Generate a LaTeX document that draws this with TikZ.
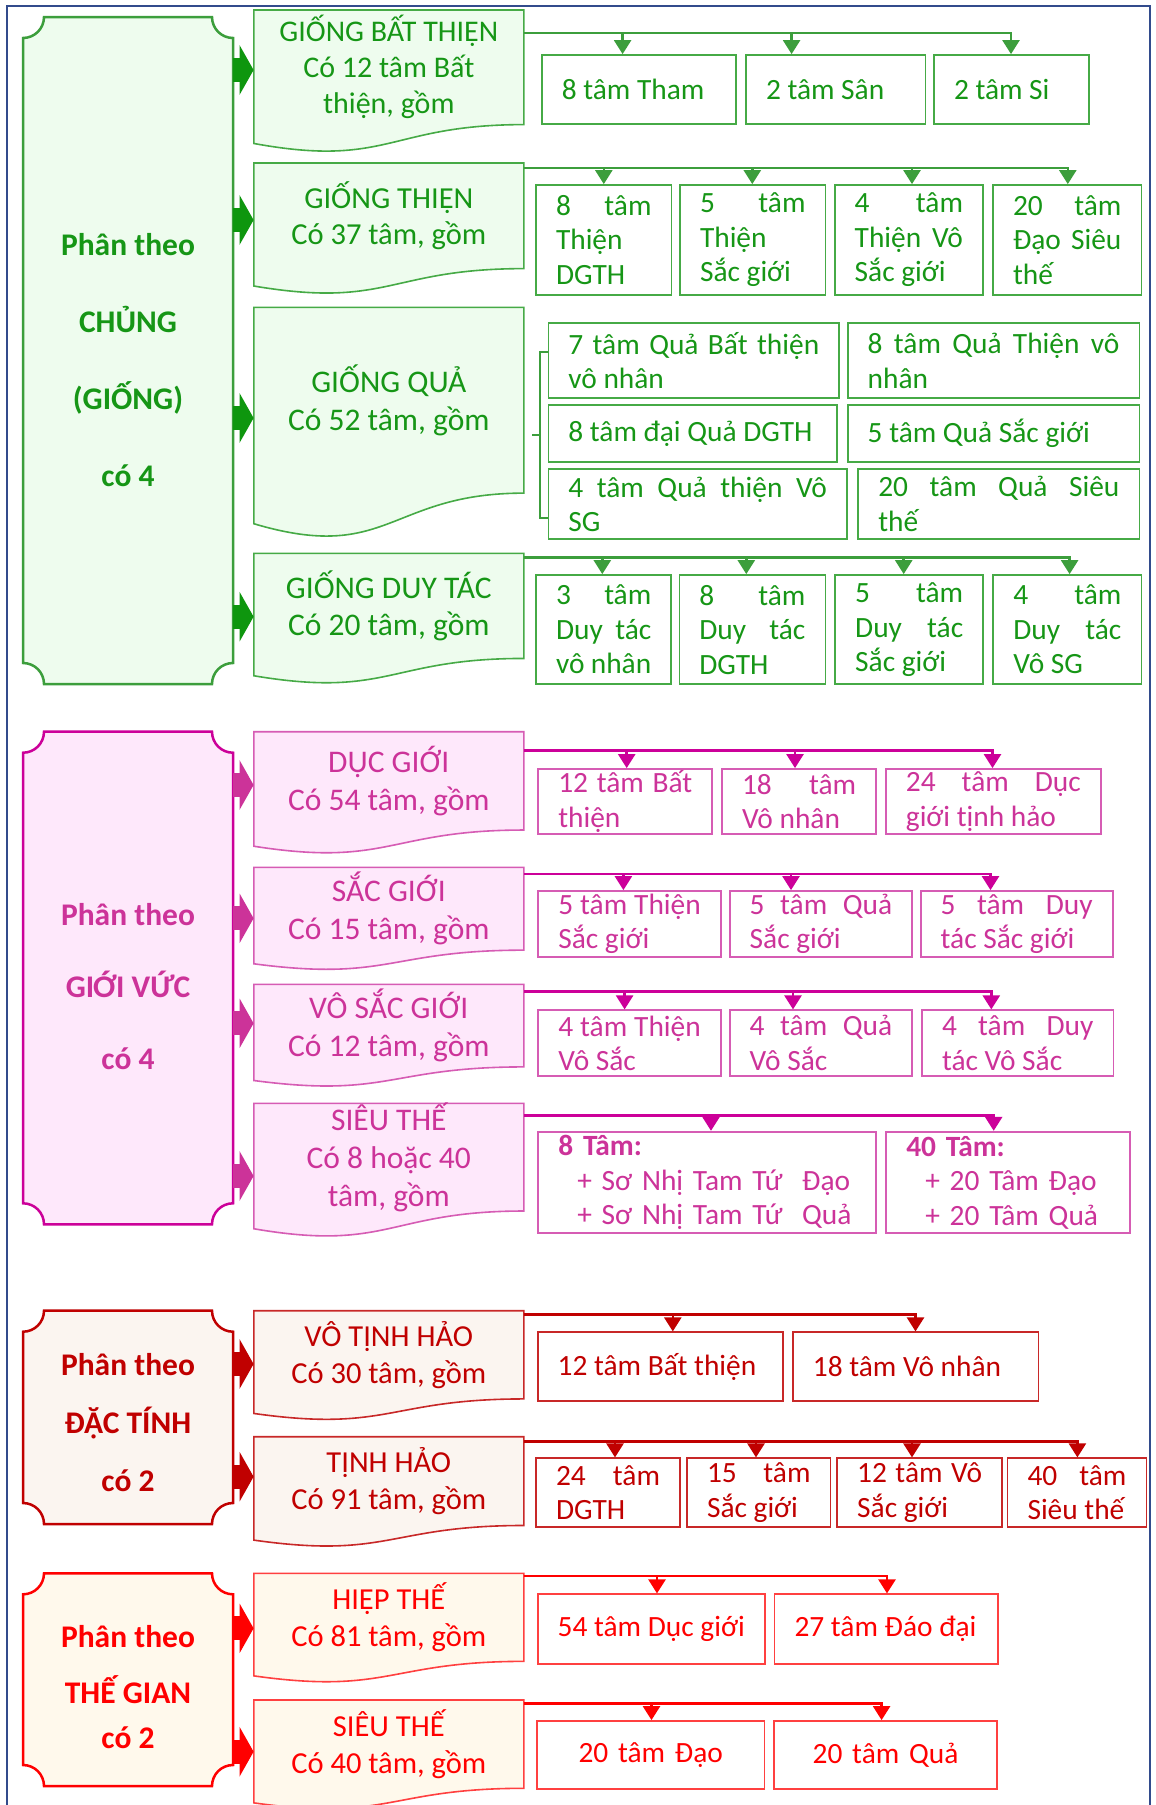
\documentclass[tikz,border=0pt]{standalone}
\usepackage{fontspec}
\setmainfont{Carlito}
\usetikzlibrary{arrows.meta}

\definecolor{gline}{RGB}{60,158,60}
\definecolor{gtext}{RGB}{22,150,22}
\definecolor{gbord}{RGB}{70,170,70}
\definecolor{gfill}{RGB}{238,252,238}
\definecolor{garrow}{RGB}{14,150,14}
\definecolor{mline}{RGB}{204,0,153}
\definecolor{mtext}{RGB}{204,51,153}
\definecolor{mbord}{RGB}{214,92,180}
\definecolor{mfill}{RGB}{254,232,251}
\definecolor{marrow}{RGB}{204,51,153}
\definecolor{rline}{RGB}{192,0,0}
\definecolor{rtext}{RGB}{192,0,0}
\definecolor{rbord}{RGB}{200,40,40}
\definecolor{rfill}{RGB}{251,245,240}
\definecolor{rarrow}{RGB}{192,0,0}
\definecolor{fline}{RGB}{255,0,0}
\definecolor{ftext}{RGB}{255,0,0}
\definecolor{fbord}{RGB}{255,64,64}
\definecolor{ffill}{RGB}{255,249,236}
\definecolor{farrow}{RGB}{255,0,0}
\definecolor{edgeblue}{RGB}{50,75,140}

\hyphenpenalty=10000
\exhyphenpenalty=10000

\tikzset{
  pan/.style={draw=#1line, fill=#1fill, line width=2.5pt},
  pantext/.style={text=#1text, align=center, inner sep=0pt, minimum width=210pt},
  docshape/.style={draw=#1bord, fill=#1fill, line width=1.6pt},
  doctext/.style={text=#1text, align=center, inner sep=0pt, minimum width=270pt},
  cell/.style={draw=#1bord, fill=white, text=#1text, line width=1.8pt, align=justify,
    inner xsep=20pt, inner ysep=0pt, font=\fontsize{29.4}{34.5}\selectfont},
  conn/.style={draw=#1line, line width=2.5pt, -{Triangle[length=14pt,width=17pt]}},
  fat/.style={draw=#1arrow, line width=24pt, -{Triangle[length=14pt,width=49pt]}},
  brk/.style={draw=#1line, line width=2pt}
}

% panel with hollow corners: [opts]{name}{colour}{top}{bottom}{text}
\newcommand\panel[6][]{%
  \pgfmathsetmacro\pnA{#4+21}\pgfmathsetmacro\pnB{#4+11.6}%
  \pgfmathsetmacro\pnC{#5-21}\pgfmathsetmacro\pnD{#5-11.6}%
  \draw[pan=#3] (44,#4) -- (212,#4) .. controls (212,\pnB) and (221.4,\pnA) .. (233,\pnA)
    -- (233,\pnC) .. controls (221.4,\pnC) and (212,\pnD) .. (212,#5)
    -- (44,#5) .. controls (44,\pnD) and (34.6,\pnC) .. (23,\pnC)
    -- (23,\pnA) .. controls (34.6,\pnA) and (44,\pnB) .. (44,#4) -- cycle;
  \node[pantext=#3,#1] (#2) at (128,{(#4+#5)/2}) {#6};
}
% document shape: [font size]{name}{colour}{top}{height}{text}
\newcommand\docbox[6][30.5]{%
  \pgfmathsetmacro\dcA{#4+0.802*#5}\pgfmathsetmacro\dcB{#4+1.1075*#5}%
  \pgfmathsetmacro\dcC{#4+0.934*#5}\pgfmathsetmacro\dcM{#4+0.401*#5}%
  \pgfmathsetmacro\dcH{0.802*#5}\pgfmathsetmacro\dcL{1.2*#1}%
  \draw[docshape=#3] (253.8,#4) -- (523.8,#4) -- (523.8,\dcA)
    .. controls (388.8,\dcA) and (388.8,\dcB) .. (253.8,\dcC) -- cycle;
  \node[doctext=#3, minimum height=\dcH pt, font=\fontsize{#1}{\dcL}\selectfont]
    (#2) at (388.8,\dcM) {#6};
}
% box: [opts]{name}{colour}{x1}{y1}{x2}{y2}{text}
\newcommand\cell[8][]{%
  \pgfmathsetmacro\clW{#6-#4}\pgfmathsetmacro\clH{#7-#5}\pgfmathsetmacro\clT{#6-#4-40}%
  \node[cell=#3, minimum width=\clW pt, minimum height=\clH pt, text width=\clT pt, #1]
    (#2) at ({(#4+#6)/2},{(#5+#7)/2}) {#8};
}

\begin{document}
\begin{tikzpicture}[x=1pt,y=-1pt]
\useasboundingbox (0,0) rectangle (1156,1805);
\fill[white] (0,0) rectangle (1156,1805);
\draw[edgeblue, line width=2pt] (6.7,1815) -- (6.7,6) -- (1150,6) -- (1150,1815);

% left panels
\panel[font=\fontsize{31.5}{77}\selectfont\bfseries, yshift=-9.5pt]{pg}{g}{17}{684}{Phân theo\\CHỦNG\\(GIỐNG)\\có 4}
\panel[font=\fontsize{31.5}{72}\selectfont\bfseries, yshift=-9pt]{pm}{m}{731.7}{1224.3}{Phân theo\\GIỚI VỨC\\có 4}
\panel[font=\fontsize{31.5}{58}\selectfont\bfseries, yshift=-5pt]{pr}{r}{1310.7}{1524}{Phân theo\\ĐẶC TÍNH\\có 2}
\panel[font=\fontsize{31.5}{56}\selectfont\bfseries, yshift=-7.6pt]{pf}{f}{1573.3}{1786}{Phân theo\\THẾ GIAN\\[-11pt]có 2}

% documents
\docbox[30]{d1}{g}{10}{142.9}{GIỐNG BẤT THIỆN\\Có 12 tâm Bất\\thiện, gồm}
\docbox{d2}{g}{163}{131.7}{GIỐNG THIỆN\\Có 37 tâm, gồm}
\docbox[31.5]{d3}{g}{307.3}{231.7}{GIỐNG QUẢ\\Có 52 tâm, gồm}
\docbox[31.5]{d4}{g}{553.3}{131.1}{GIỐNG DUY TÁC\\Có 20 tâm, gồm}
\docbox[31.5]{d5}{m}{731.7}{122.6}{DỤC GIỚI\\Có 54 tâm, gồm}
\docbox[31.5]{d6}{m}{867.3}{103.3}{SẮC GIỚI\\Có 15 tâm, gồm}
\docbox[31.5]{d7}{m}{984.3}{103}{VÔ SẮC GIỚI\\Có 12 tâm, gồm}
\docbox[31.5]{d8}{m}{1103.3}{134.3}{SIÊU THẾ\\Có 8 hoặc 40\\tâm, gồm}
\docbox{d9}{r}{1310.7}{110}{VÔ TỊNH HẢO\\Có 30 tâm, gồm}
\docbox{d10}{r}{1436.7}{110.7}{TỊNH HẢO\\Có 91 tâm, gồm}
\docbox{d11}{f}{1573.3}{109.8}{HIỆP THẾ\\Có 81 tâm, gồm}
\docbox{d12}{f}{1700}{110.1}{SIÊU THẾ\\Có 40 tâm, gồm}

% big arrows
\draw[fat=g] (pg.east |- 0,70) -- (d1.west |- 0,70);
\draw[fat=g] (pg.east |- 0,220) -- (d2.west |- 0,220);
\draw[fat=g] (pg.east |- 0,418) -- (d3.west |- 0,418);
\draw[fat=g] (pg.east |- 0,616.7) -- (d4.west |- 0,616.7);
\draw[fat=m] (pm.east |- 0,785) -- (d5.west |- 0,785);
\draw[fat=m] (pm.east |- 0,918.3) -- (d6.west |- 0,918.3);
\draw[fat=m] (pm.east |- 0,1023.3) -- (d7.west |- 0,1023.3);
\draw[fat=m] (pm.east |- 0,1176) -- (d8.west |- 0,1176);
\draw[fat=r] (pr.east |- 0,1364) -- (d9.west |- 0,1364);
\draw[fat=r] (pr.east |- 0,1476.7) -- (d10.west |- 0,1476.7);
\draw[fat=f] (pf.east |- 0,1628.3) -- (d11.west |- 0,1628.3);
\draw[fat=f] (pf.east |- 0,1751.7) -- (d12.west |- 0,1751.7);

% boxes
\cell{g11}{g}{541.8}{55}{735.6}{124}{8~tâm~Tham}
\cell{g12}{g}{746}{55}{925.5}{124}{2~tâm~Sân}
\cell{g13}{g}{934}{55}{1088.7}{124}{2~tâm~Si}
\cell{g21}{g}{536}{185}{671.5}{295}{8~tâm\linebreak Thiện\linebreak DGTH}
\cell{g22}{g}{680}{185}{825.5}{295}{5~tâm\linebreak Thiện\linebreak Sắc~giới}
\cell{g23}{g}{834.7}{185}{983}{295}{4~tâm\linebreak Thiện~Vô\linebreak Sắc~giới}
\cell{g24}{g}{993}{185}{1141.4}{295}{20~tâm\linebreak Đạo~Siêu\linebreak thế}
\cell{q1}{g}{548.4}{323.3}{839.2}{398.3}{7~tâm~Quả~Bất~thiện\linebreak vô~nhân}
\cell{q2}{g}{847.7}{323.3}{1139.4}{398.3}{8~tâm~Quả~Thiện~vô\linebreak nhân}
\cell{q3}{g}{548.4}{405}{837.2}{462.3}{8~tâm~đại~Quả~DGTH}
\cell{q4}{g}{847.7}{405}{1139.4}{462.3}{5~tâm~Quả~Sắc~giới}
\cell{q5}{g}{548.4}{469}{847}{539.3}{4~tâm~Quả~thiện~Vô\linebreak SG}
\cell{q6}{g}{858.3}{469}{1139.4}{539.3}{20~tâm~Quả~Siêu\linebreak thế}
\cell{g41}{g}{536}{575}{671.3}{684.3}{3~tâm\linebreak Duy~tác\linebreak vô~nhân}
\cell{g42}{g}{679.4}{575}{825.4}{684.3}{8~tâm\linebreak Duy~tác\linebreak DGTH}
\cell{g43}{g}{835.2}{575}{983.2}{684.3}{5~tâm\linebreak Duy~tác\linebreak Sắc~giới}
\cell{g44}{g}{993.3}{575}{1141.4}{684.3}{4~tâm\linebreak Duy~tác\linebreak Vô~SG}

\cell{m11}{m}{538.3}{769}{712.3}{834}{12~tâm~Bất\linebreak thiện}
\cell{m12}{m}{722}{769}{876.1}{834}{18~tâm\linebreak Vô~nhân}
\cell{m13}{m}{885.9}{769}{1100.8}{834}{24~tâm~Dục\linebreak giới~tịnh~hảo}
\cell{m21}{m}{538.3}{891}{720.8}{956.7}{5~tâm~Thiện\linebreak Sắc~giới}
\cell{m22}{m}{729.7}{891}{912.2}{956.7}{5~tâm~Quả\linebreak Sắc~giới}
\cell{m23}{m}{920.7}{891}{1112.6}{956.7}{5~tâm~Duy\linebreak tác~Sắc~giới}
\cell{m31}{m}{538.3}{1010.3}{720.8}{1076}{4~tâm~Thiện\linebreak Vô~Sắc}
\cell{m32}{m}{729.7}{1010.3}{912.2}{1076}{4~tâm~Quả\linebreak Vô~Sắc}
\cell{m33}{m}{922}{1010.3}{1113.4}{1076}{4~tâm~Duy\linebreak tác~Vô~Sắc}
\cell[align=left]{m41}{m}{538.3}{1131.7}{876.1}{1233.3}{\textbf{8 Tâm:}\\\hspace*{19pt}+ Sơ Nhị Tam Tứ\ \ Đạo\\\hspace*{19pt}+ Sơ Nhị Tam Tứ\ \ Quả}
\cell[align=left]{m42}{m}{886.3}{1131.7}{1130}{1233.3}{\textbf{40 Tâm:}\\\hspace*{19pt}+ 20 Tâm Đạo\\\hspace*{19pt}+ 20 Tâm Quả}

\cell{r11}{r}{537.7}{1332.3}{783.3}{1400.7}{12~tâm~Bất~thiện}
\cell{r12}{r}{792.9}{1332.3}{1038.5}{1400.7}{18~tâm~Vô~nhân}
\cell{r21}{r}{536}{1458.3}{680}{1527.3}{24~tâm\linebreak DGTH}
\cell{r22}{r}{687}{1458.3}{830.5}{1527.3}{15~tâm\linebreak Sắc~giới}
\cell{r23}{r}{837.2}{1458.3}{1002}{1527.3}{12~tâm~Vô\linebreak Sắc~giới}
\cell{r24}{r}{1007.5}{1458.3}{1146.4}{1527.3}{40~tâm\linebreak Siêu~thế}

\cell{f11}{f}{537.7}{1594.3}{764.8}{1664}{54~tâm~Dục~giới}
\cell{f12}{f}{774.5}{1594.3}{997.9}{1664}{27~tâm~Đáo~đại}
\cell[align=center]{f21}{f}{537}{1721}{764.4}{1789.3}{20 tâm Đạo}
\cell[align=center]{f22}{f}{774}{1721}{997}{1789.3}{20 tâm Quả}

% connectors
\draw[conn=g] (d1.east |- 0,33) -| (g13.north -| 1011,0);
\draw[conn=g] (622.6,33) -- (g11.north -| 622.6,0);
\draw[conn=g] (791.6,33) -- (g12.north -| 791.6,0);
\draw[conn=g] (d2.east |- 0,168) -| (g24.north -| 1067.8,0);
\draw[conn=g] (603.8,168) -- (g21.north -| 603.8,0);
\draw[conn=g] (752.3,168) -- (g22.north -| 752.3,0);
\draw[conn=g] (912,168) -- (g23.north -| 912,0);
\draw[brk=g] (q1.west |- 0,351.7) -| (540.3,435) |- (q5.west |- 0,518.3);
\draw[brk=g] (532,435) -- (540.3,435);
\draw[conn=g] (d4.east |- 0,557.3) -| (g44.north -| 1069.6,0);
\draw[conn=g] (602.3,557.3) -- (g41.north -| 602.3,0);
\draw[conn=g] (746.3,557.3) -- (g42.north -| 746.3,0);
\draw[conn=g] (903.7,557.3) -- (g43.north -| 903.7,0);

\draw[conn=m] (d5.east |- 0,750.7) -| (m13.north -| 992.5,0);
\draw[conn=m] (626.7,750.7) -- (m11.north -| 626.7,0);
\draw[conn=m] (795,750.7) -- (m12.north -| 795,0);
\draw[conn=m] (d6.east |- 0,874) -| (m23.north -| 990.5,0);
\draw[conn=m] (623.4,874) -- (m21.north -| 623.4,0);
\draw[conn=m] (791,874) -- (m22.north -| 791,0);
\draw[conn=m] (d7.east |- 0,991.7) -| (m33.north -| 991.3,0);
\draw[conn=m] (624.6,991.7) -- (m31.north -| 624.6,0);
\draw[conn=m] (793,991.7) -- (m32.north -| 793,0);
\draw[conn=m] (d8.east |- 0,1115.7) -| (m42.north -| 993.7,0);
\draw[conn=m] (711,1115.7) -- (m41.north -| 711,0);

\draw[conn=r] (d9.east |- 0,1314.3) -| (r12.north -| 915.5,0);
\draw[conn=r] (672.8,1314.3) -- (r11.north -| 672.8,0);
\draw[conn=r] (d10.east |- 0,1441.7) -| (r24.north -| 1077.4,0);
\draw[conn=r] (615,1441.7) -- (r21.north -| 615,0);
\draw[conn=r] (756,1441.7) -- (r22.north -| 756,0);
\draw[conn=r] (912,1441.7) -- (r23.north -| 912,0);

\draw[conn=f] (d11.east |- 0,1576) -| (f12.north -| 887,0);
\draw[conn=f] (657,1576) -- (f11.north -| 657,0);
\draw[conn=f] (d12.east |- 0,1703.3) -| (f22.north -| 881.6,0);
\draw[conn=f] (651.5,1703.3) -- (f21.north -| 651.5,0);
\end{tikzpicture}
\end{document}
